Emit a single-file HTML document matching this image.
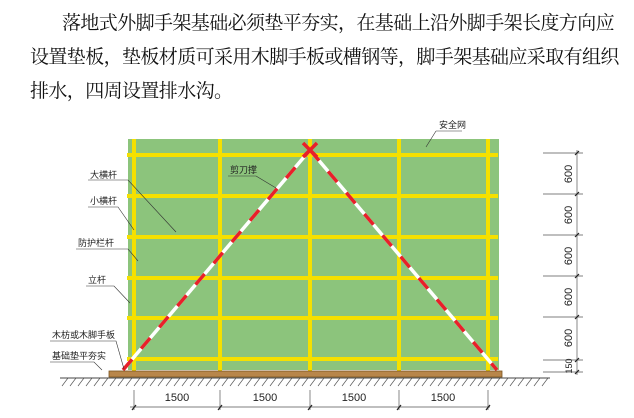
<!DOCTYPE html>
<html><head><meta charset="utf-8"><style>
html,body{margin:0;padding:0;background:#fff;}
body{width:634px;height:418px;position:relative;overflow:hidden;}
.t{position:absolute;font-family:"Liberation Serif","Noto Serif CJK SC",serif;font-size:19px;color:#111;white-space:nowrap;line-height:20px;letter-spacing:-0.6px;}
svg{position:absolute;left:0;top:0;}
</style></head><body>
<div class="t" style="left:62px;top:14px;">落地式外脚手架基础必须垫平夯实，在基础上沿外脚手架长度方向应</div>
<div class="t" style="left:30px;top:48px;">设置垫板，垫板材质可采用木脚手板或槽钢等，脚手架基础应采取有组织</div>
<div class="t" style="left:30px;top:82px;">排水，四周设置排水沟。</div>
<svg width="634" height="418" viewBox="0 0 634 418" font-family="Liberation Sans, Noto Sans CJK SC, sans-serif">
<rect x="128" y="139" width="371" height="231" fill="#8cc47c"/>
<g stroke="#f5e000" stroke-width="4">
<line x1="127" y1="155" x2="498" y2="155"/>
<line x1="127" y1="196" x2="498" y2="196"/>
<line x1="127" y1="237" x2="498" y2="237"/>
<line x1="127" y1="278" x2="498" y2="278"/>
<line x1="127" y1="318" x2="498" y2="318"/>
<line x1="127" y1="359" x2="498" y2="359"/>
<line x1="134" y1="139" x2="134" y2="372"/>
<line x1="220" y1="139" x2="220" y2="372"/>
<line x1="310" y1="139" x2="310" y2="372"/>
<line x1="399" y1="139" x2="399" y2="372"/>
<line x1="488" y1="139" x2="488" y2="372"/>
</g>
<g stroke-width="3.5">
<line x1="123" y1="370" x2="310" y2="150" stroke="#fff"/>
<line x1="123" y1="370" x2="310" y2="150" stroke="#e8202a" stroke-dasharray="14,14"/>
<line x1="310" y1="150" x2="497" y2="370" stroke="#fff"/>
<line x1="310" y1="150" x2="497" y2="370" stroke="#e8202a" stroke-dasharray="14,14"/>
<line x1="303" y1="143" x2="317" y2="157" stroke="#e8202a"/>
<line x1="317" y1="143" x2="303" y2="157" stroke="#e8202a"/>
</g>
<rect x="109" y="371" width="393" height="6" fill="#b8864a" stroke="#7a5520" stroke-width="0.8"/>
<line x1="60" y1="378" x2="550" y2="378" stroke="#444" stroke-width="1"/>
<g stroke="#555" stroke-width="0.7">
<path d="M62 386l6-8M70 386l6-8M78 386l6-8M86 386l6-8M94 386l6-8M102 386l6-8M110 386l6-8M118 386l6-8M126 386l6-8M134 386l6-8M142 386l6-8M150 386l6-8M158 386l6-8M166 386l6-8M174 386l6-8M182 386l6-8M190 386l6-8M198 386l6-8M206 386l6-8M214 386l6-8M222 386l6-8M230 386l6-8M238 386l6-8M246 386l6-8M254 386l6-8M262 386l6-8M270 386l6-8M278 386l6-8M286 386l6-8M294 386l6-8M302 386l6-8M310 386l6-8M318 386l6-8M326 386l6-8M334 386l6-8M342 386l6-8M350 386l6-8M358 386l6-8M366 386l6-8M374 386l6-8M382 386l6-8M390 386l6-8M398 386l6-8M406 386l6-8M414 386l6-8M422 386l6-8M430 386l6-8M438 386l6-8M446 386l6-8M454 386l6-8M462 386l6-8M470 386l6-8M478 386l6-8M486 386l6-8M494 386l6-8M502 386l6-8M510 386l6-8M518 386l6-8M526 386l6-8M534 386l6-8M542 386l6-8"/>
<line x1="130" y1="407" x2="490" y2="407"/>
<line x1="134" y1="390" x2="134" y2="410"/>
<line x1="220" y1="390" x2="220" y2="410"/>
<line x1="310" y1="390" x2="310" y2="410"/>
<line x1="399" y1="390" x2="399" y2="410"/>
<line x1="488" y1="390" x2="488" y2="410"/>
<line x1="577" y1="150" x2="577" y2="375"/>
<line x1="543" y1="153" x2="583" y2="153"/><line x1="543" y1="194" x2="583" y2="194"/>
<line x1="543" y1="235" x2="583" y2="235"/><line x1="543" y1="276" x2="583" y2="276"/>
<line x1="543" y1="317" x2="583" y2="317"/><line x1="543" y1="360" x2="583" y2="360"/>
<line x1="543" y1="372" x2="583" y2="372"/>
</g>
<g stroke="#222" stroke-width="1.2">
<path d="M132 410l4-5M218 410l4-5M308 410l4-5M397 410l4-5M486 410l4-5M575 155l4-4M575 196l4-4M575 237l4-4M575 278l4-4M575 319l4-4M575 362l4-4M575 374l4-4"/>
</g>
<g font-size="11" fill="#222">
<text x="177" y="401" text-anchor="middle">1500</text>
<text x="265" y="401" text-anchor="middle">1500</text>
<text x="354" y="401" text-anchor="middle">1500</text>
<text x="443" y="401" text-anchor="middle">1500</text>
<g text-anchor="middle">
<text transform="translate(572,174) rotate(-90)">600</text>
<text transform="translate(572,215) rotate(-90)">600</text>
<text transform="translate(572,256) rotate(-90)">600</text>
<text transform="translate(572,297) rotate(-90)">600</text>
<text transform="translate(572,338) rotate(-90)">600</text>
<text font-size="9" transform="translate(572,366) rotate(-90)">150</text>
</g>
</g>
<g font-size="9" fill="#222">
<text x="439" y="128">安全网</text>
<text x="230" y="173">剪刀撑</text>
<text x="90" y="178">大横杆</text>
<text x="90" y="204">小横杆</text>
<text x="78" y="246">防护栏杆</text>
<text x="88" y="283">立杆</text>
<text x="52" y="338">木枋或木脚手板</text>
<text x="52" y="359">基础垫平夯实</text>
</g>
<g stroke="#333" stroke-width="0.6" fill="none">
<path d="M436 131h26M436 131l-10 16"/>
<path d="M228 176h28M256 176l20 12"/>
<path d="M88 180h40l48 52"/>
<path d="M88 207h30l16 23"/>
<path d="M76 249h52l10 12"/>
<path d="M86 286h28l16 17"/>
<path d="M50 341h66l8 28"/>
<path d="M50 362h44l8 8"/>
</g>
</svg>
</body></html>
